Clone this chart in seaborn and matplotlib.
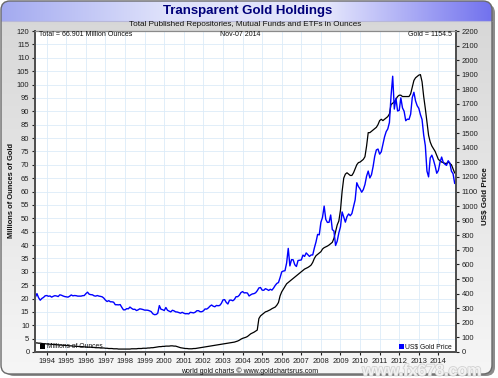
import numpy as np
import pandas as pd
import matplotlib
matplotlib.use('Agg')
import matplotlib.pyplot as plt
import matplotlib.patheffects as pe
from matplotlib.patches import FancyBboxPatch, Rectangle
from matplotlib.colors import LinearSegmentedColormap
import seaborn as sns

# monthly points, Jun 1993 .. Nov 2014
months = pd.date_range('1993-06-01', '2014-11-01', freq='MS')

# total published holdings, millions of ounces (left axis)
holdings = [
    3.4, 3.4, 3.3, 3.3, 3.2, 3.1, 3.1,                                   # 1993
    3.0, 3.0, 2.9, 2.9, 2.8, 2.8, 2.7, 2.7, 2.6, 2.6, 2.5, 2.5,          # 1994
    2.4, 2.4, 2.3, 2.3, 2.2, 2.2, 2.1, 2.1, 2.0, 2.0, 2.0, 1.9,          # 1995
    1.9, 1.8, 1.8, 1.8, 1.7, 1.7, 1.6, 1.6, 1.6, 1.5, 1.5, 1.5,          # 1996
    1.4, 1.4, 1.3, 1.3, 1.3, 1.2, 1.2, 1.2, 1.1, 1.1, 1.1, 1.1,          # 1997
    1.1, 1.1, 1.1, 1.1, 1.2, 1.2, 1.2, 1.2, 1.3, 1.3, 1.3, 1.4,          # 1998
    1.4, 1.4, 1.5, 1.5, 1.6, 1.6, 1.7, 1.8, 1.9, 2.0, 2.0, 2.1,          # 1999
    2.1, 2.2, 2.2, 2.2, 2.3, 2.3, 2.2, 2.2, 2.0, 1.8, 1.6, 1.5,          # 2000
    1.4, 1.3, 1.3, 1.2, 1.2, 1.2, 1.3, 1.3, 1.4, 1.5, 1.6, 1.7,          # 2001
    1.8, 1.9, 2.0, 2.1, 2.2, 2.3, 2.4, 2.5, 2.6, 2.7, 2.8, 2.9,          # 2002
    3.0, 3.1, 3.2, 3.3, 3.4, 3.5, 3.6, 3.7, 3.9, 4.1, 4.4, 4.8,          # 2003
    5.1, 5.3, 5.5, 5.8, 6.3, 6.8, 7.1, 7.4, 7.8, 8.2, 12.5, 13.5,        # 2004
    14.0, 14.5, 15.0, 15.2, 15.5, 15.8, 16.2, 16.5, 16.8, 17.5, 18.5, 21.0,  # 2005
    22.5, 23.5, 24.5, 25.5, 26.0, 26.5, 27.0, 27.5, 28.0, 28.5, 29.0, 29.5,  # 2006
    30.0, 30.5, 31.0, 31.3, 31.6, 32.0, 32.5, 33.5, 35.0, 36.0, 36.5, 37.0,  # 2007
    37.5, 38.5, 39.0, 39.3, 39.6, 40.0, 40.5, 41.0, 42.5, 45.0, 47.5, 49.0,  # 2008
    53.0, 60.0, 65.0, 66.5, 67.0, 66.5, 66.0, 66.0, 67.0, 68.5, 70.0, 70.8,  # 2009
    71.0, 71.5, 72.0, 73.0, 77.0, 82.0, 82.0, 82.5, 83.0, 83.5, 84.0, 85.0,  # 2010
    86.5, 87.0, 86.5, 87.0, 87.5, 88.0, 89.0, 92.5, 93.0, 93.5, 94.5, 95.5,  # 2011
    96.0, 96.0, 95.5, 95.5, 95.5, 95.5, 95.5, 96.5, 99.0, 101.5, 102.5, 103.0,  # 2012
    103.5, 103.7, 101.0, 95.5, 91.0, 86.0, 81.0, 78.5, 77.0, 76.0, 75.0, 73.5,  # 2013
    72.0, 71.5, 71.0, 70.8, 70.5, 70.5, 71.0, 70.5, 70.0, 68.5, 66.9,        # 2014
]

# gold price, US$ (right axis)
gold_price = [
    375, 400, 372, 355, 367, 374, 385,                                   # 1993
    387, 382, 384, 376, 382, 386, 384, 380, 392, 389, 384, 380,          # 1994
    378, 376, 382, 391, 385, 387, 386, 383, 383, 383, 386, 387,          # 1995
    400, 410, 396, 393, 392, 385, 383, 387, 383, 381, 378, 369,          # 1996
    355, 346, 352, 344, 344, 341, 324, 324, 323, 325, 306, 289,          # 1997
    289, 297, 296, 308, 299, 292, 293, 284, 289, 296, 294, 291,          # 1998
    287, 287, 286, 282, 277, 262, 256, 257, 265, 318, 293, 290,          # 1999
    284, 305, 286, 280, 275, 286, 282, 275, 274, 270, 266, 272,          # 2000
    266, 262, 263, 261, 272, 270, 268, 273, 283, 283, 276, 276,          # 2001
    282, 295, 294, 302, 314, 322, 314, 310, 319, 317, 319, 333,          # 2002
    357, 359, 340, 329, 355, 356, 351, 360, 379, 379, 389, 407,          # 2003
    414, 405, 406, 404, 384, 392, 398, 400, 406, 420, 439, 442,          # 2004
    424, 423, 434, 429, 422, 430, 424, 438, 456, 470, 476, 510,          # 2005
    549, 555, 557, 610, 710, 590, 633, 632, 598, 586, 627, 629,          # 2006
    631, 664, 655, 679, 667, 655, 665, 665, 713, 754, 806, 803,          # 2007
    889, 923, 1000, 909, 888, 889, 939, 839, 829, 730, 760, 816,         # 2008
    858, 960, 924, 890, 928, 946, 934, 949, 996, 1043, 1160, 1134,       # 2009
    1118, 1095, 1113, 1148, 1205, 1240, 1193, 1215, 1271, 1342, 1385, 1391,  # 2010
    1356, 1372, 1424, 1474, 1510, 1529, 1573, 1756, 1890, 1665, 1739, 1652,  # 2011
    1656, 1742, 1673, 1650, 1585, 1596, 1594, 1630, 1744, 1780, 1721, 1688,  # 2012
    1670, 1627, 1593, 1487, 1414, 1240, 1200, 1330, 1349, 1316, 1275, 1225,  # 2013
    1244, 1300, 1336, 1299, 1287, 1279, 1311, 1296, 1239, 1222, 1155,    # 2014
]

year_ticks = list(range(1994, 2015))
left_ticks = list(range(0, 121, 5))
right_ticks = list(range(0, 2201, 100))

df = pd.DataFrame({
    'year': months.year + (months.month - 1) / 12,
    'holdings': holdings,
    'gold': gold_price,
})

sns.set_theme(style='white')
plt.rcParams['font.family'] = ['Liberation Sans', 'DejaVu Sans']

W, H = 498, 378
fig = plt.figure(figsize=(W / 100, H / 100), dpi=100)

# background: rounded grey panel with a blue title band
bg = fig.add_axes([0, 0, 1, 1], zorder=-5)
bg.set_xlim(0, W)
bg.set_ylim(H, 0)
bg.axis('off')
bg.add_patch(FancyBboxPatch((5, 4), W - 8, H - 6, boxstyle='round,pad=0,rounding_size=9',
                            fc='#8c8c8c', ec='none', zorder=0))
clip = FancyBboxPatch((1, 1), W - 7, H - 5, boxstyle='round,pad=0,rounding_size=9',
                      fc='none', ec='none')
bg.add_patch(clip)
body = bg.imshow(np.linspace(0, 1, 256).reshape(-1, 1), aspect='auto',
                 cmap=LinearSegmentedColormap.from_list('body', ['#d6d6d6', '#e6e6e6', '#f6f6f6']),
                 extent=[1, W - 6, H - 4, 1], zorder=1)
body.set_clip_path(clip)
band = bg.imshow(np.linspace(0, 1, 256).reshape(1, -1), aspect='auto',
                 cmap=LinearSegmentedColormap.from_list('band', ['#a3aaf0', '#dfe2fb', '#e4e6fc', '#7272ee']),
                 extent=[1, W - 6, 21, 1], zorder=2)
band.set_clip_path(clip)
bg.plot([1, W - 6], [21, 21], color='#b8b8d8', lw=0.8, zorder=3)
bg.add_patch(FancyBboxPatch((1, 1), W - 7, H - 5, boxstyle='round,pad=0,rounding_size=9',
                            fc='none', ec='#6a6a6a', lw=1, zorder=4))

# main chart
ax = fig.add_axes([35 / W, 26 / H, 421 / W, 321 / H])
ax.set_facecolor('white')
ax.set_xticks(year_ticks)
ax.set_yticks(left_ticks)
ax.grid(True, color='#dcebf8', lw=0.6)
sns.lineplot(data=df, x='year', y='holdings', ax=ax, color='black', lw=0.9)
ax.set_xlim(1993.4, 2014.9)
ax.set_ylim(0, 120)
ax.set_xlabel('')
ax.set_ylabel('')

ax2 = ax.twinx()
sns.lineplot(data=df, x='year', y='gold', ax=ax2, color='#0000ff', lw=1.0)
ax2.set_ylim(0, 2200)
ax2.set_yticks(right_ticks)
ax2.set_ylabel('')
ax2.grid(False)

for a in (ax, ax2):
    for s in ('left', 'right', 'bottom'):
        a.spines[s].set_color('#505050')
        a.spines[s].set_linewidth(1.4)
    a.spines['top'].set_color('#8a8a8a')
    a.spines['top'].set_linewidth(0.8)
    a.tick_params(labelsize=5.5, length=2.5, width=0.8, pad=1.5, colors='#202020',
                  direction='out')
ax.tick_params(axis='y', left=True, right=False)
ax.tick_params(axis='x', bottom=True)
ax2.tick_params(axis='y', right=True)

# texts
fig.text(248 / W, 1 - 11 / H, 'Transparent Gold Holdings', ha='center', va='center',
         fontsize=9.5, fontweight='bold', color='#00007a')
fig.text(245 / W, 1 - 25 / H, 'Total Published Repositories, Mutual Funds and ETFs in Ounces',
         ha='center', va='center', fontsize=5.9, color='#111111')
fig.text(39 / W, 1 - 34 / H, 'Total = 66.901 Million Ounces', ha='left', va='center',
         fontsize=5, color='#111111')
fig.text(240 / W, 1 - 34 / H, 'Nov-07 2014', ha='center', va='center', fontsize=5, color='#111111')
fig.text(452 / W, 1 - 34 / H, 'Gold = 1154.5', ha='right', va='center', fontsize=5, color='#111111')
fig.text(12 / W, 1 - 190 / H, 'Millions of Ounces of Gold', rotation=90, ha='center', va='center',
         fontsize=5.4, fontweight='bold', color='#111111')
fig.text(485 / W, 1 - 196 / H, 'US$ Gold Price', rotation=90, ha='center', va='center',
         fontsize=5.8, fontweight='bold', color='#111111')
fig.text(250 / W, 1 - 371 / H, 'world gold charts \u00a9 www.goldchartsrus.com', ha='center',
         va='center', fontsize=5, color='#111111')
fig.text(422 / W, 1 - 371 / H, 'www.fx678.com', ha='center', va='center', fontsize=11.5,
         fontweight='bold', color='#f2f2f2',
         path_effects=[pe.withStroke(linewidth=1.1, foreground='#cfcfcf')])

# legend markers
fig.patches.append(Rectangle((40 / W, 1 - 349 / H), 5 / W, 5 / H, transform=fig.transFigure,
                             fc='black', ec='none', figure=fig))
fig.text(47 / W, 1 - 347 / H, 'Millions of Ounces', ha='left', va='center', fontsize=4.9,
         color='#111111')
fig.patches.append(Rectangle((399 / W, 1 - 349 / H), 5 / W, 5 / H, transform=fig.transFigure,
                             fc='#0000ff', ec='none', figure=fig))
fig.text(405 / W, 1 - 347 / H, 'US$ Gold Price', ha='left', va='center', fontsize=4.9,
         color='#111111')

fig.savefig('out.png', dpi=100)
